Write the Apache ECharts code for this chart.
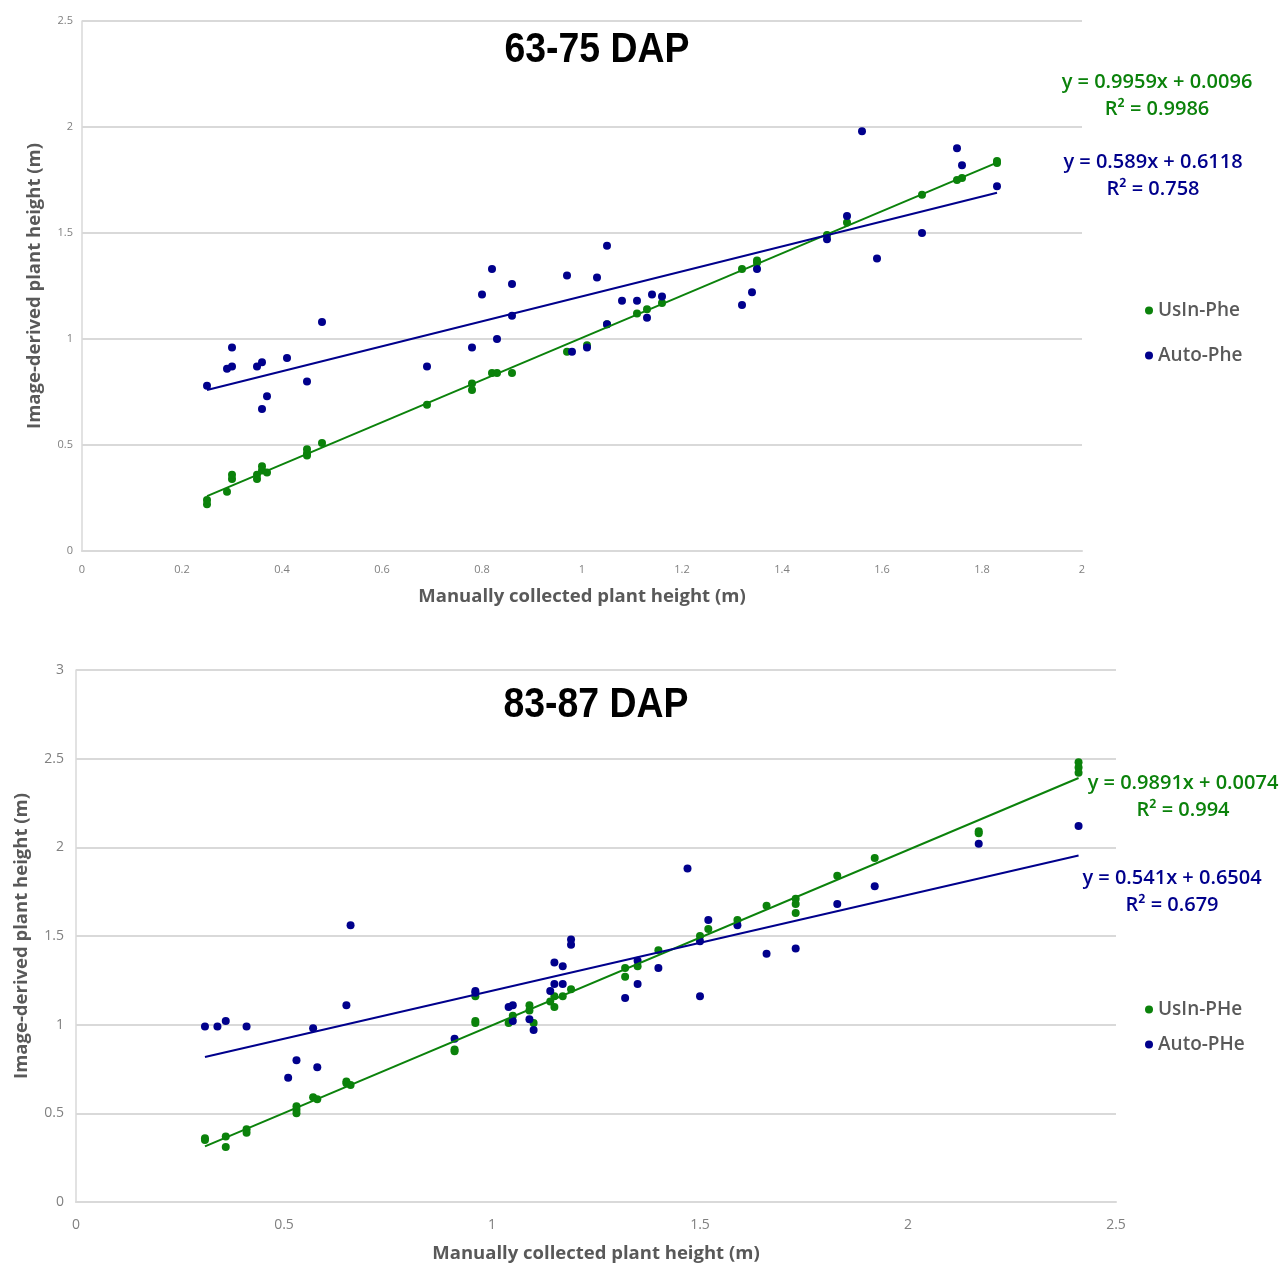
<!DOCTYPE html>
<html>
<head>
<meta charset="utf-8">
<script src="https://cdn.jsdelivr.net/npm/echarts@6/dist/echarts.min.js"></script>
<style>
  html, body { margin: 0; padding: 0; background: #ffffff; }
  #chart { width: 1281px; height: 1264px; }
</style>
</head>
<body>
<div id="chart"></div>
<script>
// ---------- Data ----------
const titleTop = '63-75 DAP';
const titleBottom = '83-87 DAP';
const xNameTxt = 'Manually collected plant height (m)';
const yNameTxt = 'Image-derived plant height (m)';

// Top panel: 63-75 DAP
const topUsIn = [
  [0.25,0.22],[0.25,0.24],[0.29,0.28],[0.30,0.34],[0.30,0.36],[0.35,0.34],[0.35,0.36],
  [0.36,0.38],[0.36,0.40],[0.37,0.37],[0.45,0.45],[0.45,0.46],[0.45,0.48],[0.48,0.51],
  [0.69,0.69],[0.78,0.76],[0.78,0.79],[0.82,0.84],[0.83,0.84],[0.86,0.84],[0.97,0.94],
  [1.01,0.97],[1.05,1.07],[1.11,1.12],[1.13,1.14],[1.16,1.17],[1.32,1.33],[1.35,1.36],
  [1.35,1.37],[1.49,1.49],[1.53,1.55],[1.68,1.68],[1.75,1.75],[1.76,1.76],[1.83,1.83],[1.83,1.84]
];
const topAuto = [
  [0.25,0.78],[0.29,0.86],[0.30,0.87],[0.30,0.96],[0.35,0.87],[0.36,0.89],[0.36,0.67],
  [0.37,0.73],[0.41,0.91],[0.45,0.80],[0.48,1.08],[0.69,0.87],[0.78,0.96],[0.80,1.21],
  [0.82,1.33],[0.83,1.00],[0.86,1.26],[0.86,1.11],[0.97,1.30],[0.98,0.94],[1.01,0.96],
  [1.03,1.29],[1.05,1.44],[1.05,1.07],[1.08,1.18],[1.11,1.18],[1.13,1.10],[1.14,1.21],
  [1.16,1.20],[1.32,1.16],[1.34,1.22],[1.35,1.33],[1.49,1.47],[1.53,1.58],[1.56,1.98],
  [1.59,1.38],[1.68,1.50],[1.75,1.90],[1.76,1.82],[1.83,1.72]
];
// trendline endpoints (from the printed equations)
const topUsInTrend = [[0.25,0.2586],[1.83,1.8321]];
const topAutoTrend = [[0.25,0.7591],[1.83,1.6897]];
const topEqUsIn = ['y = 0.9959x + 0.0096', 'R\u00B2 = 0.9986'];
const topEqAuto = ['y = 0.589x + 0.6118', 'R\u00B2 = 0.758'];
const topNames = ['UsIn-Phe', 'Auto-Phe'];

// Bottom panel: 83-87 DAP
const botUsIn = [
  [0.31,0.36],[0.31,0.35],[0.36,0.37],[0.36,0.31],[0.41,0.41],[0.41,0.39],[0.53,0.54],
  [0.53,0.52],[0.53,0.50],[0.57,0.59],[0.58,0.58],[0.65,0.68],[0.65,0.67],[0.66,0.66],
  [0.91,0.86],[0.91,0.85],[0.96,1.16],[0.96,1.02],[0.96,1.01],[1.04,1.01],[1.05,1.05],
  [1.09,1.11],[1.09,1.08],[1.10,1.01],[1.14,1.13],[1.15,1.16],[1.15,1.10],[1.17,1.16],
  [1.19,1.20],[1.32,1.32],[1.32,1.27],[1.35,1.33],[1.40,1.42],[1.50,1.50],[1.52,1.54],
  [1.59,1.59],[1.66,1.67],[1.73,1.71],[1.73,1.68],[1.73,1.63],[1.83,1.84],[1.92,1.94],
  [2.17,2.09],[2.17,2.08],[2.41,2.48],[2.41,2.45],[2.41,2.42]
];
const botAuto = [
  [0.31,0.99],[0.34,0.99],[0.36,1.02],[0.41,0.99],[0.51,0.70],[0.53,0.80],[0.57,0.98],
  [0.58,0.76],[0.65,1.11],[0.66,1.56],[0.91,0.92],[0.96,1.19],[0.96,1.18],[1.04,1.10],
  [1.05,1.11],[1.05,1.02],[1.09,1.03],[1.10,0.97],[1.14,1.19],[1.15,1.35],[1.17,1.33],
  [1.15,1.23],[1.17,1.23],[1.19,1.48],[1.19,1.45],[1.32,1.15],[1.35,1.36],[1.35,1.23],
  [1.40,1.32],[1.47,1.88],[1.50,1.47],[1.50,1.16],[1.52,1.59],[1.59,1.56],[1.66,1.40],
  [1.73,1.43],[1.83,1.68],[1.92,1.78],[2.17,2.02],[2.41,2.12]
];
const botUsInTrend = [[0.31,0.3140],[2.41,2.3912]];
const botAutoTrend = [[0.31,0.8181],[2.41,1.9542]];
const botEqUsIn = ['y = 0.9891x + 0.0074', 'R\u00B2 = 0.994'];
const botEqAuto = ['y = 0.541x + 0.6504', 'R\u00B2 = 0.679'];
const botNames = ['UsIn-PHe', 'Auto-PHe'];

// ---------- Styling ----------
const GREEN = '#0b820b';
const BLUE = '#00008c';
const GRID = '#d9d9d9';
const TXT = '#595959';
const TICK = '#808080';
const FONT = "'Open Sans', 'Liberation Sans', sans-serif";
const TFONT = "'Liberation Sans', Arial, sans-serif";

function xAx(gi, max, interval, fs, gap) {
  return {
    type: 'value', gridIndex: gi, min: 0, max: max, interval: interval,
    name: xNameTxt, nameLocation: 'middle', nameGap: gap,
    nameTextStyle: { color: TXT, fontFamily: FONT, fontWeight: 'bold', fontSize: 18.5 },
    axisLine: { show: true, lineStyle: { color: GRID, width: 2 } },
    axisTick: { show: false },
    splitLine: { show: false },
    axisLabel: { color: TICK, fontFamily: FONT, fontSize: fs, margin: fs + 2 }
  };
}
function yAx(gi, max, fs, gap) {
  return {
    type: 'value', gridIndex: gi, min: 0, max: max, interval: 0.5,
    name: yNameTxt, nameLocation: 'middle', nameGap: gap,
    nameTextStyle: { color: TXT, fontFamily: FONT, fontWeight: 'bold', fontSize: 18.5 },
    axisLine: { show: true, lineStyle: { color: GRID, width: 1.5 } },
    axisTick: { show: false },
    splitLine: { show: true, lineStyle: { color: GRID, width: 2 } },
    axisLabel: { color: TICK, fontFamily: FONT, fontSize: fs, margin: fs - 2 }
  };
}
function scatter(name, data, color, gi) {
  return { type: 'scatter', name: name, data: data, xAxisIndex: gi, yAxisIndex: gi,
    symbol: 'circle', symbolSize: 8, itemStyle: { color: color, opacity: 1 }, z: 3 };
}
function trend(data, color, gi) {
  return { type: 'line', data: data, xAxisIndex: gi, yAxisIndex: gi, symbol: 'none',
    lineStyle: { color: color, width: 2 }, z: 4, silent: true };
}
function eqText(lines, color, cx, y, gap) {
  return lines.map((t, i) => ({
    type: 'text', x: cx, y: y + i * gap, z: 10,
    style: { text: t, fill: color, font: `600 20px ${FONT}`, textAlign: 'center', textVerticalAlign: 'middle' }
  }));
}
function titleText(t, cx, cy) {
  return { type: 'text', x: cx, y: cy, scaleX: 0.87, z: 10,
    style: { text: t, fill: '#000', font: `bold 43px ${TFONT}`, textAlign: 'center', textVerticalAlign: 'middle' } };
}

const chart = echarts.init(document.getElementById('chart'), null, { renderer: 'canvas' });
chart.setOption({
  animation: false,
  backgroundColor: '#ffffff',
  grid: [
    { left: 82, top: 21, width: 1000, height: 530 },
    { left: 76, top: 670, width: 1040, height: 533 }
  ],
  xAxis: [ xAx(0, 2, 0.2, 11, 36), xAx(1, 2.5, 0.5, 14, 42) ],
  yAxis: [ yAx(0, 2.5, 11, 38), yAx(1, 3, 14, 45) ],
  legend: [
    { data: topNames, orient: 'vertical', left: 1140, top: 296, itemGap: 26,
      icon: 'circle', itemWidth: 8, itemHeight: 8,
      textStyle: { color: TXT, fontFamily: FONT, fontWeight: 600, fontSize: 19 } },
    { data: botNames, orient: 'vertical', left: 1140, top: 995, itemGap: 16,
      icon: 'circle', itemWidth: 8, itemHeight: 8,
      textStyle: { color: TXT, fontFamily: FONT, fontWeight: 600, fontSize: 19 } }
  ],
  graphic: [
    titleText(titleTop, 597, 50),
    titleText(titleBottom, 596, 705),
    ...eqText(topEqUsIn, GREEN, 1157, 82, 27),
    ...eqText(topEqAuto, BLUE, 1153, 162, 27),
    ...eqText(botEqUsIn, GREEN, 1183, 783, 27),
    ...eqText(botEqAuto, BLUE, 1172, 878, 27)
  ],
  series: [
    scatter(topNames[0], topUsIn, GREEN, 0),
    scatter(topNames[1], topAuto, BLUE, 0),
    trend(topUsInTrend, GREEN, 0),
    trend(topAutoTrend, BLUE, 0),
    scatter(botNames[0], botUsIn, GREEN, 1),
    scatter(botNames[1], botAuto, BLUE, 1),
    trend(botUsInTrend, GREEN, 1),
    trend(botAutoTrend, BLUE, 1)
  ]
});
</script>
</body>
</html>
